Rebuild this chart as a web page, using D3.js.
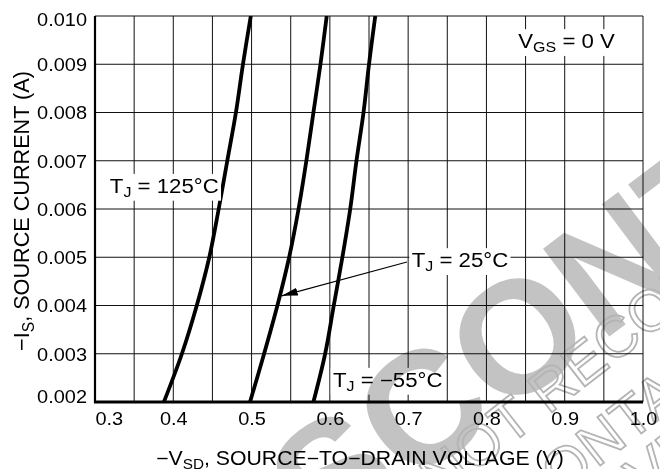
<!DOCTYPE html>
<html>
<head>
<meta charset="utf-8">
<script src="https://cdn.jsdelivr.net/npm/d3@7"></script>
<style>
  body { margin: 0; background: #fff; }
  svg { display: block; font-family: "Liberation Sans", Arial, Helvetica, sans-serif; }
</style>
</head>
<body>
<div id="chart"></div>
<script>
(function() {
  // -IS, source current (A), the same steps are used for the three curves
  var currents = [0.002, 0.003, 0.004, 0.005, 0.006, 0.007, 0.008, 0.009, 0.010];
  // -VSD (V) at each current
  var vsd125 = [0.388, 0.411, 0.430, 0.446, 0.458, 0.469, 0.480, 0.489, 0.499];
  var vsd25 = [0.498, 0.516, 0.533, 0.548, 0.560, 0.570, 0.579, 0.588, 0.596];
  var vsdMinus55 = [0.579, 0.594, 0.605, 0.616, 0.626, 0.634, 0.643, 0.650, 0.658];

  var xTicks = [0.3, 0.4, 0.5, 0.6, 0.7, 0.8, 0.9, 1.0];
  var yTicks = [0.002, 0.003, 0.004, 0.005, 0.006, 0.007, 0.008, 0.009, 0.010];

  var width = 660;
  var height = 469;
  var margin = {top: 16, right: 17, bottom: 67, left: 95};
  var stretch = 1.14; // the datasheet lettering is a bit wider than Arial

  var svg = d3.select("#chart")
    .append("svg")
    .attr("width", width)
    .attr("height", height);

  var x = d3.scaleLinear()
    .domain([0.3, 1.0])
    .range([margin.left, width - margin.right]);
  var y = d3.scaleLinear()
    .domain([0.002, 0.010])
    .range([height - margin.bottom, margin.top]);

  // grid: every 0.05 V and every 1 mA
  var grid = svg.append("g").attr("stroke", "#111").attr("stroke-width", 1);
  grid.selectAll("line.v")
    .data(x.ticks(14))
    .enter()
    .append("line")
    .attr("class", "v")
    .attr("x1", function(d) { return x(d); })
    .attr("x2", function(d) { return x(d); })
    .attr("y1", y(0.010))
    .attr("y2", y(0.002));
  grid.selectAll("line.h")
    .data(yTicks)
    .enter()
    .append("line")
    .attr("class", "h")
    .attr("x1", x(0.3))
    .attr("x2", x(1.0))
    .attr("y1", function(d) { return y(d); })
    .attr("y2", function(d) { return y(d); });

  // heavier left and bottom axis lines
  svg.append("line")
    .attr("x1", x(0.3)).attr("x2", x(0.3))
    .attr("y1", y(0.010)).attr("y2", y(0.002) + 1)
    .attr("stroke", "#000").attr("stroke-width", 2.2);
  svg.append("line")
    .attr("x1", x(0.3) - 1).attr("x2", x(1.0))
    .attr("y1", y(0.002)).attr("y2", y(0.002))
    .attr("stroke", "#000").attr("stroke-width", 2.8);

  // tick labels through the d3 axes
  var xAxis = svg.append("g")
    .attr("transform", "translate(0," + y(0.002) + ")")
    .call(d3.axisBottom(x).tickValues(xTicks).tickSize(0).tickFormat(d3.format(".1f")));
  xAxis.select(".domain").remove();
  xAxis.selectAll("text")
    .attr("fill", "#000")
    .attr("font-size", 17.5)
    .attr("font-family", null)
    .attr("y", 0)
    .attr("dy", "0.71em")
    .attr("text-anchor", function(d, i) { return i === 0 ? "start" : "middle"; })
    .attr("transform", "translate(0,11) scale(" + stretch + ",1)");

  var yAxis = svg.append("g")
    .attr("transform", "translate(" + x(0.3) + ",0)")
    .call(d3.axisLeft(y).tickValues(yTicks).tickSize(0).tickFormat(d3.format(".3f")));
  yAxis.select(".domain").remove();
  yAxis.selectAll("text")
    .attr("fill", "#000")
    .attr("font-size", 17.5)
    .attr("font-family", null)
    .attr("x", 0)
    .attr("dy", "0.36em")
    .attr("transform", function(d, i) {
      var shift = 0;
      if (i === 0) shift = -6;
      if (i === yTicks.length - 1) shift = 3;
      return "translate(-8," + shift + ") scale(" + stretch + ",1)";
    });

  // curves
  svg.append("clipPath").attr("id", "plot-clip")
    .append("rect")
    .attr("x", x(0.3)).attr("y", y(0.010))
    .attr("width", x(1.0) - x(0.3)).attr("height", y(0.002) - y(0.010));

  var line = d3.line()
    .x(function(d) { return x(d[0]); })
    .y(function(d) { return y(d[1]); })
    .curve(d3.curveCatmullRom.alpha(0.5));

  var curves = [vsd125, vsd25, vsdMinus55];
  svg.append("g")
    .attr("clip-path", "url(#plot-clip)")
    .selectAll("path")
    .data(curves)
    .enter()
    .append("path")
    .attr("fill", "none")
    .attr("stroke", "#000")
    .attr("stroke-width", 3.8)
    .attr("d", function(vs) {
      return line(vs.map(function(v, i) { return [v, currents[i]]; }));
    });

  // writes "T" + sub "J" + rest into a text element
  function rich(text, parts, size) {
    var prevSub = false;
    parts.forEach(function(p) {
      var t = text.append("tspan").text(p[0]);
      if (p[1] === "sub") {
        t.attr("font-size", size * 0.72).attr("dy", size * 0.22);
        prevSub = true;
      } else if (prevSub) {
        t.attr("dy", -size * 0.22);
        prevSub = false;
      }
    });
  }

  function note(parts, vx, iy, size) {
    var g = svg.append("g")
      .attr("transform", "translate(" + x(vx) + "," + y(iy) + ") scale(" + stretch + ",1)");
    var box = g.append("rect").attr("fill", "#fff");
    var t = g.append("text").attr("font-size", size);
    rich(t, parts, size);
    var b = t.node().getBBox();
    box.attr("x", b.x - 2).attr("y", b.y - 1)
      .attr("width", b.width + 4).attr("height", b.height + 2);
  }

  // arrow for the 25 degC label
  var defs = svg.append("defs");
  defs.append("marker")
    .attr("id", "head")
    .attr("viewBox", "0 -4 16 8")
    .attr("refX", 16).attr("refY", 0)
    .attr("markerUnits", "userSpaceOnUse")
    .attr("markerWidth", 16).attr("markerHeight", 8)
    .attr("orient", "auto")
    .append("path")
    .attr("d", "M0,-4L16,0L0,4Z")
    .attr("fill", "#000");
  svg.append("line")
    .attr("x1", x(0.6985)).attr("y1", y(0.00490))
    .attr("x2", x(0.5386)).attr("y2", y(0.00420))
    .attr("stroke", "#000").attr("stroke-width", 1.1)
    .attr("marker-end", "url(#head)");

  note([["T"], ["J", "sub"], [" = 125°C"]], 0.319, 0.00634, 19.5);
  note([["T"], ["J", "sub"], [" = 25°C"]], 0.7045, 0.00480, 19.5);
  note([["T"], ["J", "sub"], [" = \u221255°C"]], 0.604, 0.00232, 19.5);
  note([["V"], ["GS", "sub"], [" = 0 V"]], 0.8407, 0.00934, 19.5);

  // axis titles
  var xt = svg.append("text")
    .attr("font-size", 19.5)
    .attr("text-anchor", "middle")
    .attr("transform", "translate(360,465) scale(1.09,1)");
  rich(xt, [["\u2212V"], ["SD", "sub"], [", SOURCE\u2212TO\u2212DRAIN VOLTAGE (V)"]], 19.5);

  var yt = svg.append("text")
    .attr("font-size", 19.5)
    .attr("text-anchor", "middle")
    .attr("transform", "translate(29,211) scale(" + stretch + ",1.11) rotate(-90)");
  rich(yt, [["\u2212I"], ["S", "sub"], [", SOURCE CURRENT (A)"]], 19.5);

  // DISCONTINUED watermark, multiplied over the drawing
  var wm = svg.append("g").style("mix-blend-mode", "multiply");
  wm.append("text")
    .attr("transform", "translate(196,648) rotate(-37)")
    .attr("font-size", 160)
    .attr("font-weight", "bold")
    .attr("fill", "#c3c3c3")
    .text("DISCONTINUED");
  var outline = [
    ["NOT RECOMMENDED FOR NEW DESIGN", 440, 500],
    ["CONTACT YOUR REPRESENTATIVE", 528, 522],
    ["TIVE FOR INFORMATION", 605, 530]
  ];
  wm.selectAll("text.outline")
    .data(outline)
    .enter()
    .append("text")
    .attr("class", "outline")
    .attr("transform", function(d) { return "translate(" + d[1] + "," + d[2] + ") rotate(-38)"; })
    .attr("font-size", 58)
    .attr("fill", "none")
    .attr("stroke", "#b4b4b4")
    .attr("stroke-width", 1.8)
    .text(function(d) { return d[0]; });
})();
</script>
</body>
</html>
